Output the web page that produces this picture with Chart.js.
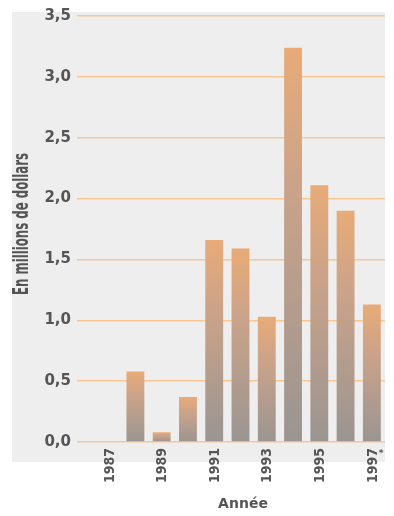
<!DOCTYPE html>
<html>
<head>
<meta charset="utf-8">
<script src="https://cdn.jsdelivr.net/npm/chart.js@4/dist/chart.umd.min.js"></script>
<style>
  html, body { margin: 0; padding: 0; background: #ffffff; }
  #wrap { width: 394px; height: 516px; }
</style>
</head>
<body>
<div id="wrap"><canvas id="c" width="394" height="516"></canvas></div>
<script>
// Annual amounts, in millions of dollars
const years = ['1987', '1988', '1989', '1990', '1991', '1992', '1993', '1994', '1995', '1996', '1997'];
const amounts = [0, 0.58, 0.08, 0.37, 1.66, 1.59, 1.03, 3.24, 2.11, 1.90, 1.13];
const yearLabels = ['1987', '', '1989', '', '1991', '', '1993', '', '1995', '', '1997'];
const yTicks = [0, 0.5, 1, 1.5, 2, 2.5, 3, 3.5];
const yTitle = 'En millions de dollars';
const xTitle = 'Année';
const footnoteMark = '*';

const TEXT = '#555555';
const GRID = '#f9c692';

// Light grey panel behind the plot
const panel = {
  id: 'panel',
  beforeDraw(chart) {
    const ctx = chart.ctx;
    ctx.save();
    ctx.fillStyle = '#eeeeee';
    ctx.fillRect(12, 12, 373, 450);
    ctx.restore();
  }
};

// Axis titles and rotated year labels
const labels = {
  id: 'labels',
  afterDraw(chart) {
    const ctx = chart.ctx;
    const xs = chart.scales.x;
    const area = chart.chartArea;
    ctx.save();
    ctx.fillStyle = TEXT;

    // year labels, reading bottom to top, in a tall narrow face
    ctx.font = 'bold 14px "DejaVu Sans"';
    ctx.textAlign = 'right';
    ctx.textBaseline = 'middle';
    yearLabels.forEach((lab, i) => {
      if (!lab) return;
      const x = xs.getPixelForValue(i);
      ctx.save();
      ctx.translate(x, area.bottom + 6);
      ctx.rotate(-Math.PI / 2);
      const w = ctx.measureText(lab).width;
      ctx.scale(35 / w, 1);
      ctx.fillText(lab, 0, 1);
      ctx.restore();
      if (i === yearLabels.length - 1) {
        ctx.save();
        ctx.font = 'bold 9px "DejaVu Sans"';
        ctx.textAlign = 'left';
        ctx.fillText(footnoteMark, x + 7, area.bottom + 12);
        ctx.restore();
      }
    });

    // x title
    ctx.font = 'bold 14px "DejaVu Sans"';
    ctx.textAlign = 'center';
    ctx.textBaseline = 'middle';
    ctx.fillText(xTitle, 243, 504);

    // y title, narrow and tall
    ctx.save();
    ctx.translate(28, 224);
    ctx.rotate(-Math.PI / 2);
    ctx.font = 'bold 21px "DejaVu Sans"';
    ctx.textBaseline = 'alphabetic';
    const w = ctx.measureText(yTitle).width;
    ctx.scale(142 / w, 1);
    ctx.fillText(yTitle, 0, 0);
    ctx.restore();

    ctx.restore();
  }
};

// Each bar fades from orange at its top to grey at its base
function barFill(c) {
  const chart = c.chart;
  if (!chart.chartArea || c.raw === undefined) return '#c8a080';
  const ys = chart.scales.y;
  const top = ys.getPixelForValue(c.raw);
  const base = ys.getPixelForValue(0);
  if (Math.abs(base - top) < 1) return '#e6ac78';
  const g = chart.ctx.createLinearGradient(0, top, 0, base);
  g.addColorStop(0, '#e8ab78');
  g.addColorStop(0.35, '#cba389');
  g.addColorStop(1, '#9a9592');
  return g;
}

new Chart(document.getElementById('c'), {
  type: 'bar',
  data: {
    labels: years,
    datasets: [{
      data: amounts,
      backgroundColor: barFill,
      borderWidth: 0,
      barPercentage: 0.68,
      categoryPercentage: 1.0
    }]
  },
  options: {
    responsive: false,
    animation: false,
    layout: { padding: { top: 16, right: 9, left: 0, bottom: 0 } },
    plugins: { legend: { display: false }, tooltip: { enabled: false } },
    scales: {
      x: {
        grid: { display: false },
        border: { display: false },
        ticks: { display: false },
        afterFit(s) { s.height = 74; }
      },
      y: {
        min: 0,
        max: 3.5,
        afterBuildTicks(s) { s.ticks = yTicks.map(v => ({ value: v })); },
        afterFit(s) { s.width = 96; },
        grid: {
          color: GRID,
          lineWidth: 1.5,
          drawTicks: true,
          tickLength: 19,
          tickColor: GRID
        },
        border: { display: false },
        ticks: {
          padding: 6,
          color: TEXT,
          font: { family: 'DejaVu Sans', weight: 'bold', size: 15 },
          callback: v => v.toFixed(1).replace('.', ',')
        }
      }
    }
  },
  plugins: [panel, labels]
});
</script>
</body>
</html>
